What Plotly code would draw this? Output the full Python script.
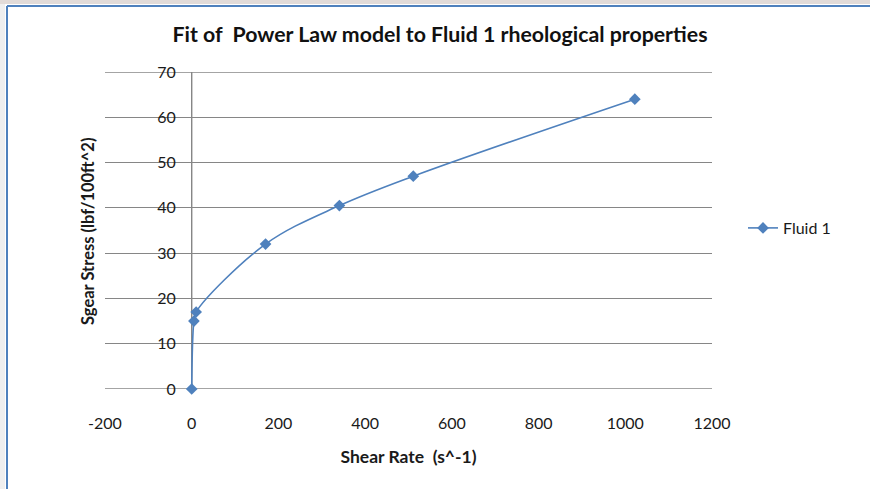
import plotly.graph_objects as go

# Rheometer readings for Fluid 1
shear_rate = [0, 5.11, 10.22, 170.3, 340.6, 511, 1022]      # s^-1
shear_stress = [0, 15, 17, 32, 40.5, 47, 64]                # lbf/100ft^2

x_ticks = [-200, 0, 200, 400, 600, 800, 1000, 1200]
y_ticks = [0, 10, 20, 30, 40, 50, 60, 70]

W, H = 870, 489
L, R, T, B = 105, 158, 72, 100
PW, PH = W - L - R, H - T - B

def px_x(p):
    return (p - L) / PW

def px_y(p):
    return (H - B - p) / PH

BLUE = "#4F81BD"
GRID = "#868686"
FONT = "Lato"
TXT = "#1a1a1a"

fig = go.Figure()
fig.add_trace(go.Scatter(
    x=shear_rate, y=shear_stress, name="Fluid 1",
    mode="lines+markers",
    line=dict(color=BLUE, width=1.6, shape="spline", smoothing=1),
    marker=dict(symbol="diamond", size=9, color=BLUE),
    cliponaxis=False,
))

fig.update_layout(
    width=W, height=H,
    margin=dict(l=L, r=R, t=T, b=B),
    paper_bgcolor="white", plot_bgcolor="white",
    font=dict(family=FONT, color=TXT),
    title=dict(text="<b>Fit of  Power Law model to Fluid 1 rheological properties</b>",
               x=px_x(440), xref="paper", xanchor="center",
               y=1 - 35 / H, yref="container", yanchor="middle",
               font=dict(size=21.3, family=FONT, color="#111111")),
    showlegend=True,
    legend=dict(x=px_x(743), y=px_y(228), xanchor="left", yanchor="middle",
                font=dict(size=16, family=FONT, color=TXT),
                bgcolor="rgba(0,0,0,0)", itemwidth=30),
    xaxis=dict(range=[x_ticks[0], x_ticks[-1]], tickvals=x_ticks,
               ticktext=[str(v) for v in x_ticks],
               showgrid=False, zeroline=False, showline=False,
               ticks="", ticklabelstandoff=23,
               tickfont=dict(size=16, family=FONT, color=TXT),
               title=dict(text="<b>Shear Rate  (s^-1)</b>", standoff=19,
                          font=dict(size=17.5, family=FONT, color=TXT))),
    yaxis=dict(range=[y_ticks[0], y_ticks[-1]], tickvals=y_ticks,
               ticktext=[str(v) for v in y_ticks],
               anchor="free", position=(0 - x_ticks[0]) / (x_ticks[-1] - x_ticks[0]),
               showgrid=True, gridcolor=GRID, gridwidth=1.4,
               zeroline=False, showline=False,
               ticks="", ticklabelstandoff=16,
               tickfont=dict(size=16, family=FONT, color=TXT)),
)

# Horizontal rules at the bottom and top of the value range
for yv in (y_ticks[0], y_ticks[-1]):
    fig.add_shape(type="line", xref="x", yref="y", x0=x_ticks[0], x1=x_ticks[-1],
                  y0=yv, y1=yv, line=dict(color=GRID, width=1.4), layer="below")

# Vertical axis line at x = 0, spanning the value range
fig.add_shape(type="line", xref="x", yref="y", x0=0, x1=0, y0=y_ticks[0], y1=y_ticks[-1],
              line=dict(color=GRID, width=1.4), layer="below")

# Y axis title placed at the left edge of the chart area
fig.add_annotation(
    text="<b>Sgear Stress (lbf/100ft^2)</b>", textangle=-90,
    x=px_x(88), y=px_y(232), xref="paper", yref="paper",
    xanchor="center", yanchor="middle",
    showarrow=False, font=dict(size=16.5, family=FONT, color=TXT),
)

# Chart frame: soft outer strip and blue edge lines at top and left
shapes = [
    dict(type="rect", x0=px_x(0), x1=px_x(W), y0=px_y(0), y1=px_y(4),
         fillcolor="#e2dbd8", line=dict(width=0)),
    dict(type="rect", x0=px_x(0), x1=px_x(5), y0=px_y(4), y1=px_y(H),
         fillcolor="#efefef", line=dict(width=0)),
    dict(type="line", x0=px_x(7), x1=px_x(W), y0=px_y(6), y1=px_y(6),
         line=dict(color=BLUE, width=2)),
    dict(type="line", x0=px_x(7), x1=px_x(7), y0=px_y(6), y1=px_y(H),
         line=dict(color=BLUE, width=2)),
]
for s in shapes:
    s.update(xref="paper", yref="paper", layer="above")
    fig.add_shape(**s)

fig.write_html("out.html")
